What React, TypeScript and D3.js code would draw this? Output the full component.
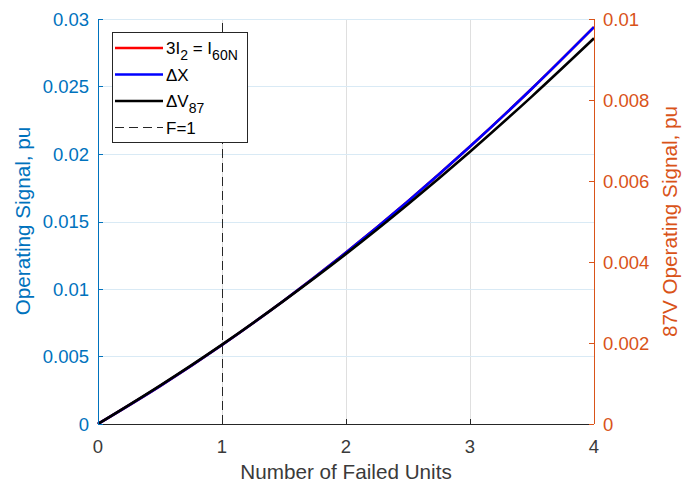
import { useEffect, useRef } from "react";
import * as d3 from "d3";

// failed units (x) and operating signals
const UNITS = [0, 0.5, 1, 1.5, 2, 2.5, 3, 3.5, 4];
const I2_SIGNAL = [0, 0.0028, 0.00585, 0.00915, 0.0127, 0.0165, 0.02055, 0.02485, 0.0294];
const DX_SIGNAL = [0, 0.0028, 0.00585, 0.00915, 0.0127, 0.0165, 0.02055, 0.02485, 0.0294];
const DV87_SIGNAL = [0, 0.000947, 0.00196, 0.003047, 0.0042, 0.005427, 0.006723, 0.00809, 0.009523];

const X_TICKS = [0, 1, 2, 3, 4];
const LEFT_TICKS = [0, 0.005, 0.01, 0.015, 0.02, 0.025, 0.03];
const RIGHT_TICKS = [0, 0.002, 0.004, 0.006, 0.008, 0.01];

const BLUE_AX = "#0072BD";
const ORANGE_AX = "#D95319";
const DARK = "#262626";
const FONT = "'Liberation Sans', Arial, Helvetica, sans-serif";

export default function App() {
  const svgRef = useRef<SVGSVGElement>(null);

  useEffect(() => {
    if (!svgRef.current) return;
    const width = 694;
    const height = 483;
    const margin = { top: 19, right: 100, bottom: 59, left: 98 };
    const innerW = width - margin.left - margin.right;
    const innerH = height - margin.top - margin.bottom;

    const svg = d3.select(svgRef.current);
    svg.selectAll("*").remove();
    svg.attr("width", width).attr("height", height);

    const g = svg.append("g").attr("transform", `translate(${margin.left},${margin.top})`);

    const x = d3.scaleLinear().domain([0, 4]).range([0, innerW]);
    const yL = d3.scaleLinear().domain([0, 0.03]).range([innerH, 0]);
    const yR = d3.scaleLinear().domain([0, 0.01]).range([innerH, 0]);

    // grid
    g.selectAll("line.xgrid")
      .data(X_TICKS.slice(1, -1))
      .enter()
      .append("line")
      .attr("x1", (d) => x(d) + 0.5)
      .attr("x2", (d) => x(d) + 0.5)
      .attr("y1", 0)
      .attr("y2", innerH)
      .attr("stroke", "#dfdfdf")
      .attr("stroke-width", 1);
    g.selectAll("line.ygrid")
      .data(LEFT_TICKS.slice(1))
      .enter()
      .append("line")
      .attr("x1", 0)
      .attr("x2", innerW)
      .attr("y1", (d) => Math.round(yL(d)) + 0.5)
      .attr("y2", (d) => Math.round(yL(d)) + 0.5)
      .attr("stroke", "#d9eaf5")
      .attr("stroke-width", 1);

    // F=1 marker
    g.append("line")
      .attr("x1", x(1) + 0.5)
      .attr("x2", x(1) + 0.5)
      .attr("y1", yL(0))
      .attr("y2", yL(0.03))
      .attr("stroke", DARK)
      .attr("stroke-width", 1)
      .attr("stroke-dasharray", "9,5");

    const lineL = d3
      .line<number>()
      .x((_, i) => x(UNITS[i]))
      .y((d) => yL(d))
      .curve(d3.curveMonotoneX);
    const lineR = d3
      .line<number>()
      .x((_, i) => x(UNITS[i]))
      .y((d) => yR(d))
      .curve(d3.curveMonotoneX);

    g.append("path").datum(I2_SIGNAL).attr("d", lineL).attr("fill", "none").attr("stroke", "#ff0000").attr("stroke-width", 2.6);
    g.append("path").datum(DX_SIGNAL).attr("d", lineL).attr("fill", "none").attr("stroke", "#0000ff").attr("stroke-width", 2.6);
    g.append("path").datum(DV87_SIGNAL).attr("d", lineR).attr("fill", "none").attr("stroke", "#000000").attr("stroke-width", 2.6);

    // bottom axis
    g.append("line")
      .attr("x1", 0).attr("x2", innerW)
      .attr("y1", innerH + 0.5).attr("y2", innerH + 0.5)
      .attr("stroke", DARK);
    X_TICKS.forEach((t) => {
      g.append("line")
        .attr("x1", x(t) + 0.5).attr("x2", x(t) + 0.5)
        .attr("y1", innerH).attr("y2", innerH - 5)
        .attr("stroke", DARK);
      g.append("text")
        .attr("x", x(t))
        .attr("y", innerH + 29)
        .attr("text-anchor", "middle")
        .attr("fill", "#3a3a3a")
        .style("font-family", FONT)
        .style("font-size", "18.5px")
        .text(d3.format("d")(t));
    });

    // left axis
    g.append("line")
      .attr("x1", 0.5).attr("x2", 0.5)
      .attr("y1", 0).attr("y2", innerH)
      .attr("stroke", BLUE_AX);
    LEFT_TICKS.forEach((t) => {
      g.append("line")
        .attr("x1", 0).attr("x2", 5)
        .attr("y1", Math.round(yL(t)) + 0.5).attr("y2", Math.round(yL(t)) + 0.5)
        .attr("stroke", BLUE_AX);
      g.append("text")
        .attr("x", -9)
        .attr("y", yL(t) + 6.5)
        .attr("text-anchor", "end")
        .attr("fill", BLUE_AX)
        .style("font-family", FONT)
        .style("font-size", "18.5px")
        .text(String(t));
    });

    // right axis
    g.append("line")
      .attr("x1", innerW + 0.5).attr("x2", innerW + 0.5)
      .attr("y1", 0).attr("y2", innerH)
      .attr("stroke", ORANGE_AX);
    RIGHT_TICKS.forEach((t) => {
      g.append("line")
        .attr("x1", innerW).attr("x2", innerW - 5)
        .attr("y1", Math.round(yR(t)) + 0.5).attr("y2", Math.round(yR(t)) + 0.5)
        .attr("stroke", ORANGE_AX);
      g.append("text")
        .attr("x", innerW + 9)
        .attr("y", yR(t) + 6.5)
        .attr("text-anchor", "start")
        .attr("fill", ORANGE_AX)
        .style("font-family", FONT)
        .style("font-size", "18.5px")
        .text(String(t));
    });

    // axis titles
    svg.append("text")
      .attr("x", margin.left + innerW / 2)
      .attr("y", 479)
      .attr("text-anchor", "middle")
      .attr("fill", "#3a3a3a")
      .style("font-family", FONT)
      .style("font-size", "20.7px")
      .text("Number of Failed Units");
    svg.append("text")
      .attr("transform", `translate(30,221) rotate(-90)`)
      .attr("text-anchor", "middle")
      .attr("fill", BLUE_AX)
      .style("font-family", FONT)
      .style("font-size", "20.7px")
      .text("Operating Signal, pu");
    svg.append("text")
      .attr("transform", `translate(677,221.5) rotate(-90)`)
      .attr("text-anchor", "middle")
      .attr("fill", ORANGE_AX)
      .style("font-family", FONT)
      .style("font-size", "20.7px")
      .text("87V Operating Signal, pu");

    // legend
    const lg = svg.append("g").attr("transform", "translate(112,32)");
    lg.append("rect")
      .attr("x", 0.5).attr("y", 0.5)
      .attr("width", 135).attr("height", 110)
      .attr("fill", "#ffffff")
      .attr("stroke", DARK);
    const entries = [
      { color: "#ff0000", dash: null, w: 2.6, label: [["3I", 0], ["2", 1], [" = I", 0], ["60N", 1]] },
      { color: "#0000ff", dash: null, w: 2.6, label: [["\u0394X", 0]] },
      { color: "#000000", dash: null, w: 2.6, label: [["\u0394V", 0], ["87", 1]] },
      { color: DARK, dash: "9,5", w: 1, label: [["F=1", 0]] },
    ];
    entries.forEach((e, i) => {
      const yy = 16 + i * 26.5;
      lg.append("line")
        .attr("x1", 3).attr("x2", 51)
        .attr("y1", yy).attr("y2", yy)
        .attr("stroke", e.color)
        .attr("stroke-width", e.w)
        .attr("stroke-dasharray", e.dash);
      const t = lg.append("text")
        .attr("x", 54)
        .attr("y", yy + 6)
        .attr("fill", "#000")
        .style("font-family", FONT)
        .style("font-size", "17px");
      e.label.forEach(([s, sub]) => {
        const span = t.append("tspan").text(s as string);
        if (sub) span.attr("dy", 6).style("font-size", "14px");
        else span.attr("dy", t.selectAll("tspan").size() > 1 ? -6 : 0);
      });
    });
  }, []);

  return (
    <svg
      ref={svgRef}
      style={{ position: "absolute", left: 0, top: 0, background: "#fff" }}
    />
  );
}
